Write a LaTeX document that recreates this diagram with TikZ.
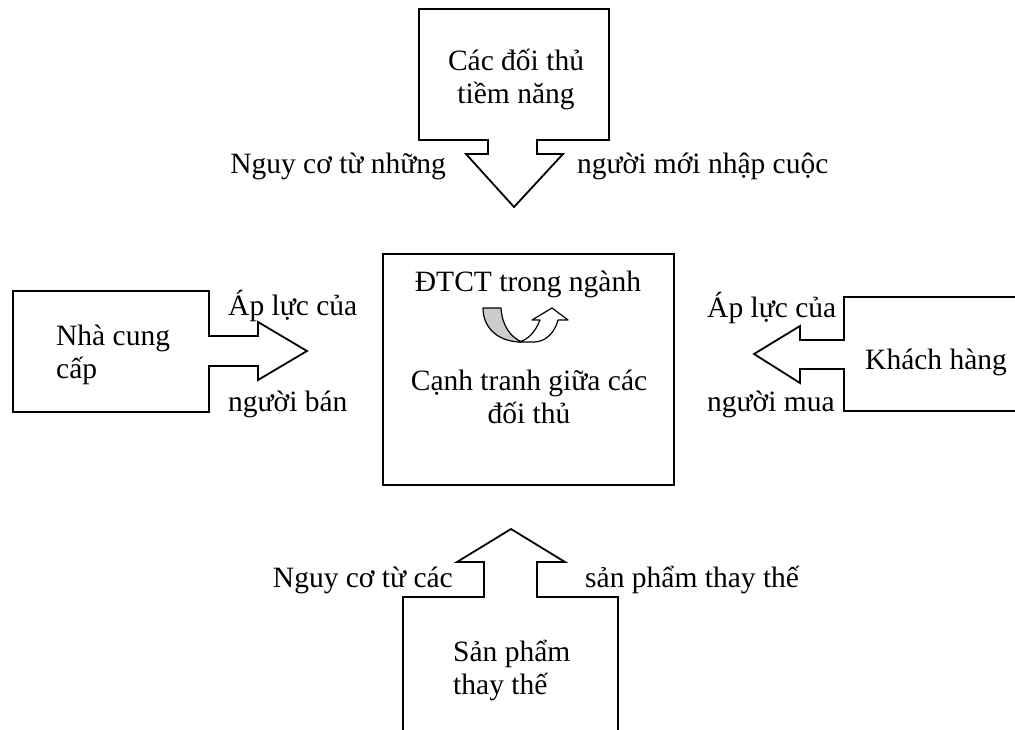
\documentclass[tikz,border=0pt]{standalone}
\usepackage{fontspec}
\setmainfont{Liberation Serif}
\begin{document}
\begin{tikzpicture}[x=1pt,y=-1pt,
  shp/.style={draw=black,line width=1.8pt,line join=miter},
  icon/.style={draw=black,line width=1.2pt,line join=round},
  lbl/.style={inner sep=0pt,font=\fontsize{29.5}{33}\selectfont},
]
\useasboundingbox (0,0) rectangle (1015,730);

% central box
\node[shp, minimum width=291pt, minimum height=231pt, inner sep=0pt] (core) at (528.5,369.5) {};

% top callout (potential entrants)
\draw[shp] (419,9) -- (609,9) -- (609,140) -- (537,140) -- (537,154) -- (563,154)
  -- (514,207) coordinate (toptip) -- (466,154) -- (488,154) -- (488,140) -- (419,140) -- cycle;

% left callout (suppliers)
\draw[shp] (13,291) -- (209,291) -- (209,336) -- (258,336) -- (258,322)
  -- (307,351) coordinate (lefttip) -- (258,380) -- (258,366) -- (209,366) -- (209,412) -- (13,412) -- cycle;

% right callout (buyers)
\draw[shp] (1015,297) -- (844,297) -- (844,340) -- (800,340) -- (800,326)
  -- (754,354) coordinate (righttip) -- (800,383) -- (800,369) -- (844,369) -- (844,411) -- (1015,411);

% bottom callout (substitutes)
\draw[shp] (403,730) -- (403,597) -- (484,597) -- (484,562) -- (457,562)
  -- (511,529) coordinate (bottip) -- (565,562) -- (537,562) -- (537,597) -- (618,597) -- (618,730);

% curved arrow icon
\filldraw[icon, fill=gray!40] (483,308) -- (501,308) .. controls (502,325) and (510,337) .. (522,342)
  -- (519,342) .. controls (498,341) and (483,328) .. (483,308) -- cycle;
\filldraw[icon, fill=white] (519,342) -- (534,342) .. controls (546,342) and (555,332) .. (558,320)
  -- (568,320) -- (552,308) -- (532,320) -- (540,320) .. controls (535,333) and (527,340) .. (519,342) -- cycle;

% texts
\node[lbl, anchor=base] (t1) at (516,71) {\begin{tabular}[t]{@{}c@{}}Các đối thủ\\tiềm năng\end{tabular}};
\node[lbl, anchor=base east] (t2) at (446,174) {Nguy cơ từ những};
\node[lbl, anchor=base west] (t3) at (577,174) {người mới nhập cuộc};

\node[lbl, anchor=base west] (l1) at (56,345) {\begin{tabular}[t]{@{}l@{}}Nhà cung\\cấp\end{tabular}};
\node[lbl, anchor=base west] (l2) at (228,315) {Áp lực của};
\node[lbl, anchor=base west] (l3) at (228,411) {người bán};

\node[lbl, anchor=base west] (r1) at (865,369) {Khách hàng};
\node[lbl, anchor=base west] (r2) at (707,317) {Áp lực của};
\node[lbl, anchor=base west] (r3) at (707,411) {người mua};

\node[lbl, anchor=base] (c1) at (528,291) {ĐTCT trong ngành};
\node[lbl, anchor=base] (c2) at (529,390) {\begin{tabular}[t]{@{}c@{}}Cạnh tranh giữa các\\đối thủ\end{tabular}};

\node[lbl, anchor=base east] (b1) at (453,587) {Nguy cơ từ các};
\node[lbl, anchor=base west] (b2) at (585,587) {sản phẩm thay thế};
\node[lbl, anchor=base west] (b3) at (453,661) {\begin{tabular}[t]{@{}l@{}}Sản phẩm\\thay thế\end{tabular}};
\end{tikzpicture}
\end{document}
